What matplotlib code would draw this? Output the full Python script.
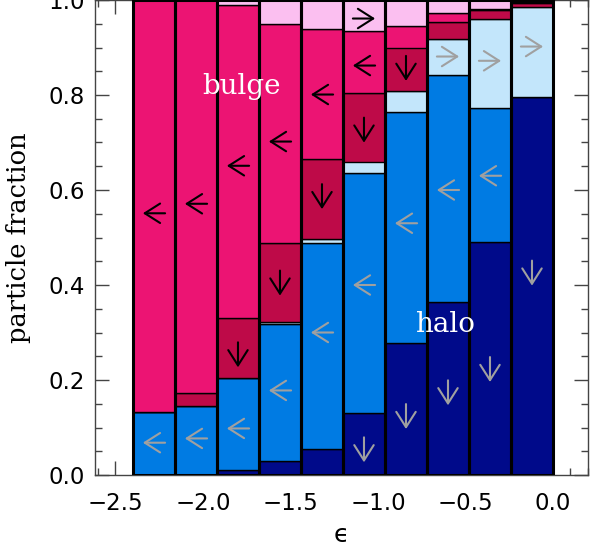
import matplotlib.pyplot as plt
import numpy as np
from matplotlib.transforms import offset_copy

# epsilon bins (left edges), 10 bins of width 0.24
eps_left = [-2.40, -2.16, -1.92, -1.68, -1.44, -1.20, -0.96, -0.72, -0.48, -0.24]
bin_width = 0.24

# stacked fractions, bottom to top
frac_navy   = [0.000, 0.000, 0.010, 0.029, 0.054, 0.130, 0.277, 0.364, 0.491, 0.796]
frac_blue   = [0.132, 0.146, 0.195, 0.289, 0.434, 0.506, 0.487, 0.479, 0.281, 0.000]
frac_lblue  = [0.000, 0.000, 0.000, 0.005, 0.009, 0.024, 0.045, 0.075, 0.187, 0.189]
frac_crimson = [0.000, 0.026, 0.126, 0.166, 0.168, 0.145, 0.091, 0.036, 0.020, 0.009]
frac_pink   = [0.868, 0.828, 0.658, 0.460, 0.275, 0.130, 0.046, 0.018, 0.003, 0.002]
frac_lpink  = [0.000, 0.000, 0.011, 0.051, 0.060, 0.065, 0.054, 0.028, 0.018, 0.004]

colors = ['#000A8A', '#007BE3', '#C3E6FB', '#BE0A48', '#EC1473', '#FBBFF0']

# migration arrows: bin index, height, direction, grey?
arrow_bin = [0, 0, 1, 1, 2, 2, 2, 3, 3, 3, 4, 4, 4,
             5, 5, 5, 5, 5, 6, 6, 6, 7, 7, 7, 8, 8, 8, 9, 9]
arrow_y = [0.068, 0.551, 0.077, 0.571, 0.098, 0.253, 0.651, 0.178, 0.404, 0.702,
           0.300, 0.586, 0.801,
           0.053, 0.400, 0.726, 0.862, 0.961, 0.123, 0.530, 0.856,
           0.173, 0.600, 0.881, 0.222, 0.630, 0.872, 0.425, 0.902]
arrow_dir = ['L', 'L', 'L', 'L', 'L', 'D', 'L', 'L', 'D', 'L', 'L', 'D', 'L',
             'D', 'L', 'D', 'L', 'R', 'D', 'L', 'D', 'D', 'L', 'R', 'D', 'L', 'R', 'D', 'R']
arrow_grey = [1, 0, 1, 0, 1, 0, 0, 1, 0, 0, 1, 0, 0,
              1, 1, 0, 0, 0, 1, 1, 0, 1, 1, 1, 1, 1, 1, 1, 1]

fig = plt.figure(figsize=(5.98, 5.5), dpi=100)
ax = fig.add_axes([95/598, 75/550, 493/598, 475/550])

centers = np.array(eps_left) + bin_width/2
bottom = np.zeros(len(centers))
for vals, col in zip([frac_navy, frac_blue, frac_lblue, frac_crimson, frac_pink, frac_lpink], colors):
    vals = np.array(vals)
    ax.bar(centers, vals, width=bin_width, bottom=bottom, color=col,
           edgecolor='black', linewidth=1.0, zorder=2)
    bottom += vals
ax.bar(centers, bottom, width=bin_width, fill=False, edgecolor='black', linewidth=2.2, zorder=3)

dvec = {'L': (-1, 0), 'R': (1, 0), 'D': (0, -1)}
for b, y, d, g in zip(arrow_bin, arrow_y, arrow_dir, arrow_grey):
    dx, dy = dvec[d]
    h = 8 if d != 'D' else 9
    head = offset_copy(ax.transData, fig=fig, x=dx*h, y=dy*h, units='points')
    tail = offset_copy(ax.transData, fig=fig, x=-dx*h, y=-dy*h, units='points')
    c = '#A0A0A0' if g else 'black'
    ax.annotate('', xy=(centers[b], y), xycoords=head, xytext=(centers[b], y), textcoords=tail,
                arrowprops=dict(arrowstyle='->,head_length=0.55,head_width=0.35', color=c, lw=1.5,
                                shrinkA=0, shrinkB=0, mutation_scale=20), zorder=4)

ax.text(-1.78, 0.817, 'bulge', color='white', fontsize=20, family='DejaVu Serif',
        ha='center', va='center', zorder=5)
ax.text(-0.62, 0.316, 'halo', color='white', fontsize=20, family='DejaVu Serif',
        ha='center', va='center', zorder=5)

ax.set_xlim(-2.617, 0.2)
ax.set_ylim(0, 1.0)
ax.set_xticks([-2.5, -2.0, -1.5, -1.0, -0.5, 0.0])
ax.set_xticks(np.arange(-2.6, 0.21, 0.1), minor=True)
ax.set_yticks([0.0, 0.2, 0.4, 0.6, 0.8, 1.0])
ax.set_yticks(np.arange(0, 1.01, 0.05), minor=True)
fmt = plt.FuncFormatter(lambda v, pos: ('%.1f' % v).replace('-', '\u2212'))
ax.xaxis.set_major_formatter(fmt)
ax.yaxis.set_major_formatter(fmt)
ax.tick_params(which='both', direction='in', top=True, right=True, labelsize=16.5, color='#444444')
ax.tick_params(which='major', length=10, width=1)
ax.tick_params(which='minor', length=5, width=1)
ax.tick_params(axis='x', pad=12)
ax.tick_params(axis='y', pad=7)
for sp in ax.spines.values():
    sp.set_color('#444444')
    sp.set_linewidth(1)

ax.set_xlabel('\u03f5', fontsize=18, family='DejaVu Sans')
ax.xaxis.set_label_coords(0.5, -0.1)
ax.set_ylabel('particle fraction', fontsize=18.5, family='DejaVu Serif')
ax.yaxis.set_label_coords(-0.13, 0.5)

fig.savefig('out.png', dpi=100)
